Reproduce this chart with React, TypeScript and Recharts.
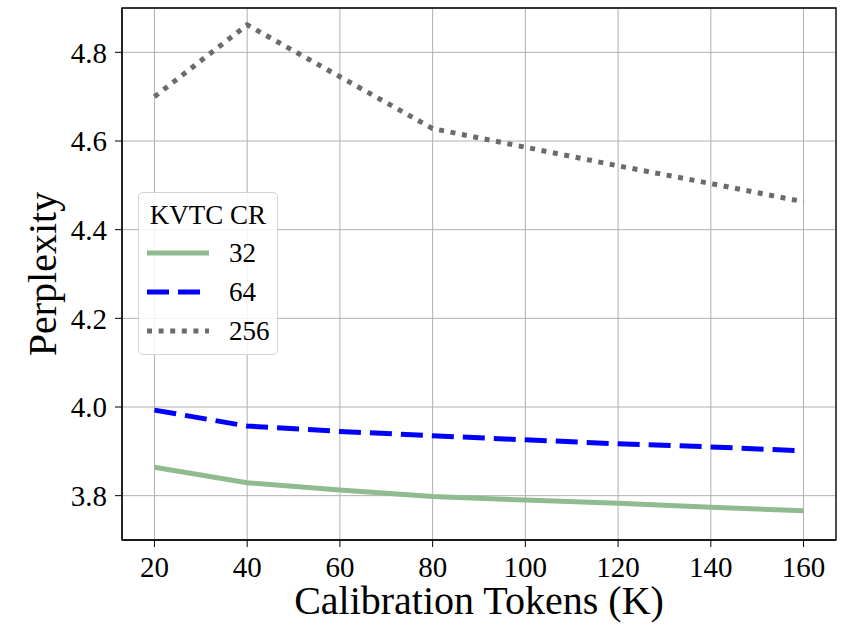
import React from "react";
import {
  CartesianGrid,
  Label,
  Line,
  LineChart,
  ReferenceArea,
  XAxis,
  YAxis,
} from "recharts";

const tokens = [20, 40, 60, 80, 100, 120, 140, 160];
const cr32 = [3.864, 3.829, 3.813, 3.798, 3.79, 3.783, 3.774, 3.766];
const cr64 = [3.993, 3.957, 3.945, 3.935, 3.926, 3.917, 3.91, 3.901];
const cr256 = [4.7, 4.862, 4.745, 4.628, 4.586, 4.544, 4.504, 4.463];

const xTicks = [20, 40, 60, 80, 100, 120, 140, 160];
const yTicks = [3.8, 4.0, 4.2, 4.4, 4.6, 4.8];

const series = [
  { key: "cr32", name: "32", color: "#8fbc8f", dash: undefined as string | undefined },
  { key: "cr64", name: "64", color: "#0000ff", dash: "22 9" },
  { key: "cr256", name: "256", color: "#6b6b6b", dash: "5 6.6" },
];

const data = tokens.map((t, i) => ({
  tokens: t,
  cr32: cr32[i],
  cr64: cr64[i],
  cr256: cr256[i],
}));

const FONT = "'Liberation Serif', 'DejaVu Serif', serif";

// legend drawn as an overlay so it doesn't eat into the plot area
const LegendBox = () => (
  <div
    style={{
      position: "absolute",
      left: 138,
      top: 192,
      width: 140,
      height: 163,
      border: "1px solid #d4d4d4",
      borderRadius: 5,
      background: "rgba(255,255,255,0.85)",
      fontFamily: FONT,
      fontSize: 27,
      color: "#000",
      boxSizing: "border-box",
    }}
  >
    <div style={{ position: "absolute", top: 5, width: "100%", textAlign: "center", lineHeight: "34px" }}>
      KVTC CR
    </div>
    {series.map((s, i) => (
      <div
        key={s.key}
        style={{ position: "absolute", top: 43 + i * 39, left: 7, height: 34, display: "flex", alignItems: "center" }}
      >
        <svg width={64} height={10}>
          <line x1={1} y1={5} x2={63} y2={5} stroke={s.color} strokeWidth={5} strokeDasharray={s.dash} />
        </svg>
        <span style={{ marginLeft: 19, lineHeight: "34px" }}>{s.name}</span>
      </div>
    ))}
  </div>
);

export default function App() {
  return (
    <div style={{ position: "absolute", left: 0, top: 0, width: 849, height: 626, background: "#fff" }}>
      <LineChart width={849} height={626} data={data} margin={{ top: 8, right: 13, left: 42, bottom: 26 }}>
        <CartesianGrid stroke="#b0b0b0" strokeWidth={1} />
        <XAxis
          dataKey="tokens"
          type="number"
          domain={[13, 167]}
          ticks={xTicks}
          allowDataOverflow
          height={60}
          tickSize={7}
          tickMargin={9}
          stroke="#000"
          tick={{ fill: "#000", fontSize: 29, fontFamily: FONT }}
        >
          <Label
            value="Calibration Tokens (K)"
            position="bottom"
            offset={-14}
            style={{ fill: "#000", fontSize: 40, fontFamily: FONT }}
          />
        </XAxis>
        <YAxis
          type="number"
          domain={[3.7, 4.9]}
          ticks={yTicks}
          allowDataOverflow
          width={80}
          tickSize={7}
          tickMargin={8}
          stroke="#000"
          tickFormatter={(v: number) => v.toFixed(1)}
          tick={{ fill: "#000", fontSize: 29, fontFamily: FONT }}
        >
          <Label
            value="Perplexity"
            angle={-90}
            position="insideLeft"
            offset={0}
            style={{ fill: "#000", fontSize: 40, fontFamily: FONT, textAnchor: "middle" }}
          />
        </YAxis>
        <ReferenceArea x1={13} x2={167} y1={3.7} y2={4.9} fill="none" stroke="#000" strokeWidth={1.3} ifOverflow="visible" />
        {series.map((s) => (
          <Line
            key={s.key}
            type="linear"
            dataKey={s.key}
            name={s.name}
            stroke={s.color}
            strokeWidth={5}
            strokeDasharray={s.dash}
            dot={false}
            activeDot={false}
            isAnimationActive={false}
          />
        ))}
      </LineChart>
      <LegendBox />
    </div>
  );
}
